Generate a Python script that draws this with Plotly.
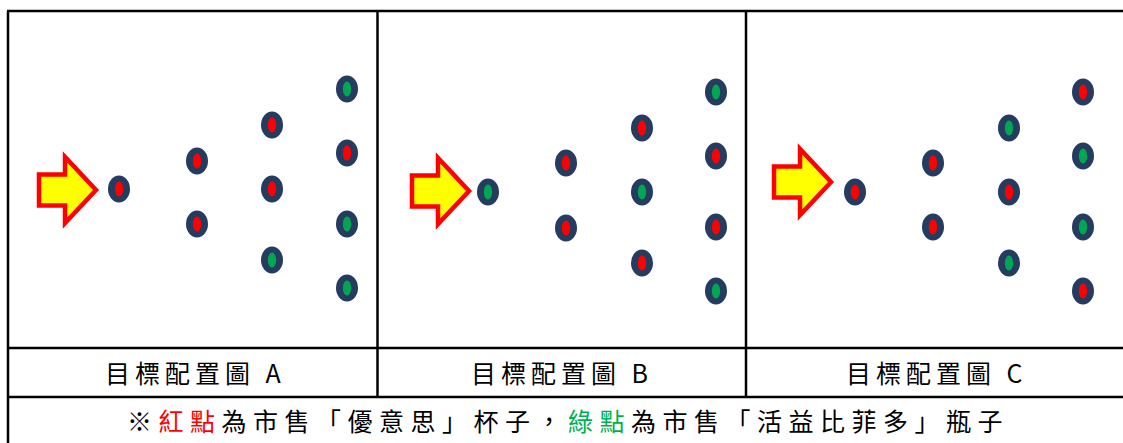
import plotly.graph_objects as go

# ---------------- data ----------------
panel_labels = ["目標配置圖 A", "目標配置圖 B", "目標配置圖 C"]
label_x = [195, 562, 937]

arrow_tip_x = [96, 469, 831]
arrow_tip_y = [190, 191, 182]

dots_x_A = [119, 197, 272, 347]
dots_y_A = [[189], [161, 224], [125, 189, 260], [89, 153, 224, 288]]
dots_c_A = [["R"], ["R", "R"], ["R", "R", "G"], ["G", "R", "G", "G"]]

dots_x_B = [488, 566, 642, 716]
dots_y_B = [[192], [163, 228], [128, 192, 263], [92, 156, 227, 291]]
dots_c_B = [["G"], ["R", "R"], ["R", "G", "R"], ["G", "R", "R", "G"]]

dots_x_C = [855, 933, 1009, 1083]
dots_y_C = [[192], [163, 227], [128, 192, 263], [92, 156, 227, 291]]
dots_c_C = [["R"], ["R", "R"], ["G", "R", "G"], ["R", "G", "G", "R"]]

note_parts = [("※", "black"), ("紅點", "red"), ("為市售「優意思」杯子，", "black"),
              ("綠點", "green"), ("為市售「活益比菲多」瓶子", "black")]

# table grid lines
h_lines_y = [11, 348, 397]
v_lines_x = [8, 377.5, 746]

# ---------------- style ----------------
W, H = 1123, 443
NAVY = "#243C5F"
COL = {"R": "#FF0000", "G": "#00A651", "red": "#FF0000", "green": "#00B050", "black": "#000000"}
FONT = "Noto Sans CJK TC"

fig = go.Figure()
shapes = []

# grid
for y in h_lines_y:
    shapes.append(dict(type="line", xref="x", yref="y", x0=v_lines_x[0] - 1, x1=W + 5,
                       y0=y, y1=y, line=dict(color="black", width=2.5)))
for x in v_lines_x:
    shapes.append(dict(type="line", xref="x", yref="y", x0=x, x1=x,
                       y0=h_lines_y[0], y1=H + 5 if x == v_lines_x[0] else h_lines_y[2],
                       line=dict(color="black", width=2.5)))

# arrows
for tx, ty in zip(arrow_tip_x, arrow_tip_y):
    L, HL, SH, HH = 57, 31, 15.5, 33
    x0 = tx - L
    xb = tx - HL
    path = (f"M {x0},{ty - SH} L {xb},{ty - SH} L {xb},{ty - HH} L {tx},{ty} "
            f"L {xb},{ty + HH} L {xb},{ty + SH} L {x0},{ty + SH} Z")
    shapes.append(dict(type="path", xref="x", yref="y", path=path,
                       fillcolor="#FFFF00", line=dict(color="#FF0000", width=4.5)))

# dots
all_x, all_y, all_c = [], [], []
for xs, ys, cs in [(dots_x_A, dots_y_A, dots_c_A), (dots_x_B, dots_y_B, dots_c_B),
                   (dots_x_C, dots_y_C, dots_c_C)]:
    for cx, col_y, col_c in zip(xs, ys, cs):
        for cy, cc in zip(col_y, col_c):
            all_x.append(cx); all_y.append(cy); all_c.append(cc)
            shapes.append(dict(type="circle", xref="x", yref="y",
                               x0=cx - 11, x1=cx + 11, y0=cy - 13.5, y1=cy + 13.5,
                               fillcolor=NAVY, line=dict(width=0)))
            shapes.append(dict(type="circle", xref="x", yref="y",
                               x0=cx - 4.2, x1=cx + 4.2, y0=cy - 7.5, y1=cy + 7.5,
                               fillcolor=COL[cc], line=dict(width=0)))

fig.add_trace(go.Scatter(x=all_x, y=all_y, mode="markers",
                         marker=dict(size=1, color=[COL[c] for c in all_c], opacity=0),
                         hoverinfo="skip", showlegend=False))

annotations = []
for lab, lx in zip(panel_labels, label_x):
    annotations.append(dict(x=lx, y=372, xref="x", yref="y", showarrow=False,
                            text=f'<span style="letter-spacing:5px">{lab}</span>',
                            font=dict(family=FONT, size=25, color="black"),
                            xanchor="center", yanchor="middle"))

note = "".join(f'<span style="color:{COL[c]}">{t}</span>' for t, c in note_parts)
annotations.append(dict(x=568, y=420, xref="x", yref="y", showarrow=False,
                        text=f'<span style="letter-spacing:6.5px">{note}</span>',
                        font=dict(family=FONT, size=25, color="black"),
                        xanchor="center", yanchor="middle"))

fig.update_layout(
    width=W, height=H, margin=dict(l=0, r=0, t=0, b=0),
    paper_bgcolor="white", plot_bgcolor="white",
    xaxis=dict(range=[0, W], visible=False, fixedrange=True),
    yaxis=dict(range=[H, 0], visible=False, fixedrange=True),
    shapes=shapes, annotations=annotations, showlegend=False,
)

fig.write_html("out.html", config={"displayModeBar": False},
               post_script="document.body.style.margin='0';document.body.style.overflow='hidden';")
